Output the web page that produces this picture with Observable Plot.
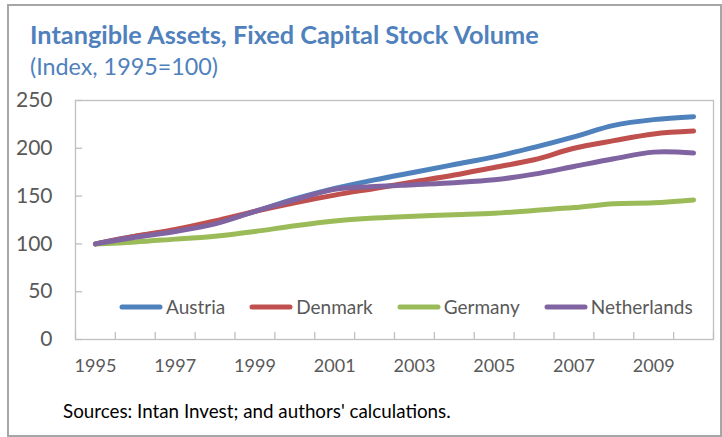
<!DOCTYPE html>
<html>
<head>
<meta charset="utf-8">
<script src="https://cdn.jsdelivr.net/npm/d3@7"></script>
<script src="https://cdn.jsdelivr.net/npm/@observablehq/plot@0.6"></script>
<style>
  html, body { margin: 0; padding: 0; background: #fff; }
  body { width: 722px; height: 437px; position: relative; overflow: hidden; font-family: Lato, "Open Sans", sans-serif; }
  #border { position: absolute; left: 7px; top: 4px; width: 711px; height: 429px; border: 2px solid #a6a6a6; }
  .t { position: absolute; line-height: 1.2; white-space: nowrap; }
  #title { left: 30px; top: 19px; font-size: 25.3px; font-weight: bold; color: #4f81bd; }
  #subtitle { left: 30px; top: 53px; font-size: 23.3px; color: #4f81bd; }
  #caption { left: 63px; top: 400px; font-size: 18.8px; color: #000; }
  #chart { position: absolute; left: 0; top: 90px; }
  #legend { position: absolute; left: 119px; top: 296px; display: flex; gap: 24px; font-size: 19px; color: #595959; line-height: 1.2; }
  #legend .item { display: flex; align-items: center; gap: 3px; }
</style>
</head>
<body>
<div id="border"></div>
<div id="title" class="t">Intangible Assets, Fixed Capital Stock Volume</div>
<div id="subtitle" class="t">(Index, 1995=100)</div>
<div id="chart"></div>
<div id="legend"></div>
<div id="caption" class="t">Sources: Intan Invest; and authors' calculations.</div>
<script>
const years = [1995,1996,1997,1998,1999,2000,2001,2002,2003,2004,2005,2006,2007,2008,2009,2010];
const austria     = [100,108,114,122,134,147,158,167,175,183,191,201,212,224,230,233];
const denmark     = [100,108,115,124,134,143,151,158,165,172,180,188,200,208,215,218];
const germany     = [100,102,105,108,113,119,124,127,129,130.5,132,135,138,142,143,146];
const netherlands = [100,107,113,121,134,146,157,160,162,164,167,173,181,189,196,195];
const seriesNames = ["Austria","Denmark","Germany","Netherlands"];
const seriesColors = ["#4f81bd","#c0504d","#9bbb59","#8064a2"];
const yTicks = [0,50,100,150,200,250];
const xLabelTicks = [1995,1997,1999,2001,2003,2005,2007,2009];

const seriesValues = [austria, denmark, germany, netherlands];
const data = [];
seriesNames.forEach((name, i) => {
  years.forEach((yr, j) => data.push({series: name, year: yr, value: seriesValues[i][j]}));
});
const boundaries = d3.range(years[0] - 0.5, years[years.length-1] + 1, 1);

const chart = Plot.plot({
  width: 722,
  height: 300,
  marginLeft: 75,
  marginRight: 9,
  marginTop: 10,
  marginBottom: 51,
  style: { fontFamily: "Lato, 'Open Sans', sans-serif", background: "transparent", overflow: "visible" },
  x: { domain: [years[0] - 0.5, years[years.length-1] + 0.5], axis: null },
  y: { domain: [0, 250], axis: null },
  color: { domain: seriesNames, range: seriesColors },
  marks: [
    Plot.frame({ stroke: "#bfbfbf", strokeWidth: 1.3 }),
    Plot.axisY({ ticks: yTicks, tickSize: -7, tickFormat: () => "", label: null, stroke: "#bfbfbf", strokeWidth: 1.3, strokeOpacity: 1 }),
    Plot.axisY({ ticks: yTicks, tickSize: 0, tickPadding: 23, fontSize: 21, fill: "#595959", label: null }),
    Plot.axisX({ ticks: boundaries, tickSize: -7, tickFormat: () => "", label: null, stroke: "#bfbfbf", strokeWidth: 1.3, strokeOpacity: 1 }),
    Plot.axisX({ ticks: xLabelTicks, tickSize: 0, tickPadding: 20, fontSize: 18, fill: "#595959", tickFormat: d => String(d), label: null }),
    Plot.line(data, { x: "year", y: "value", z: "series", stroke: "series", strokeWidth: 5, curve: "catmull-rom", strokeLinecap: "round", strokeLinejoin: "round" })
  ]
});
document.getElementById("chart").appendChild(chart);

const legend = document.getElementById("legend");
seriesNames.forEach((name, i) => {
  const item = document.createElement("div");
  item.className = "item";
  item.innerHTML = `<svg width="44" height="8"><line x1="3" y1="4" x2="41" y2="4" stroke="${seriesColors[i]}" stroke-width="5" stroke-linecap="round"/></svg><span>${name}</span>`;
  legend.appendChild(item);
});
</script>
</body>
</html>
